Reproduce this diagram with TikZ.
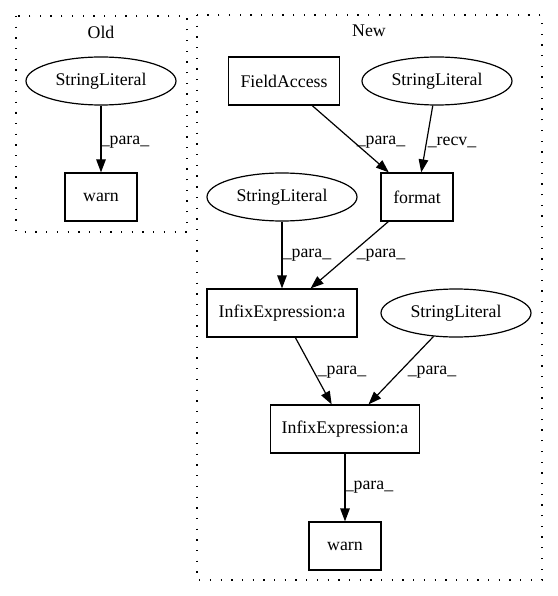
\documentclass[tikz,border=0pt]{standalone}
\usepackage{fontspec}
\setmainfont{Liberation Serif}
\usetikzlibrary{arrows.meta,shapes.geometric}
\begin{document}
\begin{tikzpicture}[x=1pt,y=-1pt,
  every node/.style={font=\fontsize{17.8}{21}\selectfont},
  box/.style={draw,line width=1.2pt,rectangle,minimum height=48pt,inner sep=0pt},
  oval/.style={draw,line width=1.2pt,ellipse,minimum width=150pt,minimum height=48pt,inner sep=0pt},
  cluster/.style={draw,line width=1.3pt,dash pattern=on 1.3pt off 9.4pt},
  edge/.style={draw,line width=1.2pt,-{Triangle[length=13pt,width=9.5pt]}},
  lbl/.style={inner sep=0pt}
]
\useasboundingbox (0,0) rectangle (557,596);
% clusters
\draw[cluster] (16,16) rectangle (187,232);
\draw[cluster] (197,15) rectangle (542,580);
\node[lbl] (oldlbl) at (101,32) {Old};
\node[lbl] (newlbl) at (369,31) {New};
% Old
\node[oval] (osl) at (101,81) {StringLiteral};
\node[box,minimum width=72pt] (owarn) at (101,197) {warn};
\draw[edge] (osl) -- (owarn);
\node[lbl] (l0) at (125,142) {\_para\_};
% New
\node[box,minimum width=111pt] (fa) at (284,81) {FieldAccess};
\node[oval] (sl1) at (437,81) {StringLiteral};
\node[box,minimum width=72pt] (fmt) at (417,197) {format};
\node[oval] (sl2) at (282,197) {StringLiteral};
\node[box,minimum width=150pt] (inf1) at (282,313) {InfixExpression:a};
\node[oval] (sl3) at (456,313) {StringLiteral};
\node[box,minimum width=149pt] (inf2) at (345,429) {InfixExpression:a};
\node[box,minimum width=72pt] (nwarn) at (345,546) {warn};
\draw[edge] (fa) -- (fmt);
\draw[edge] (sl1) -- (fmt);
\draw[edge] (sl2) -- (inf1);
\draw[edge] (fmt) -- (inf1);
\draw[edge] (inf1) -- (inf2);
\draw[edge] (sl3) -- (inf2);
\draw[edge] (inf2) -- (nwarn);
\node[lbl] (l1) at (381,142) {\_para\_};
\node[lbl] (l2) at (452,142) {\_recv\_};
\node[lbl] (l3) at (307,255) {\_para\_};
\node[lbl] (l4) at (381,255) {\_para\_};
\node[lbl] (l5) at (342,372) {\_para\_};
\node[lbl] (l6) at (432,372) {\_para\_};
\node[lbl] (l7) at (369,487) {\_para\_};
\end{tikzpicture}
\end{document}
